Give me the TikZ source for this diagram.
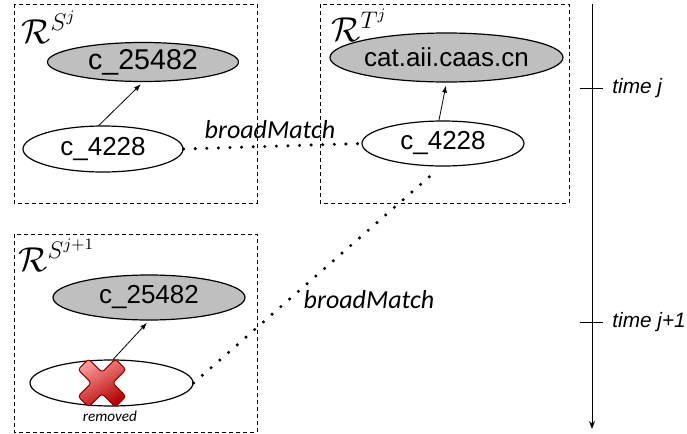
\documentclass[tikz,border=0pt]{standalone}
\usepackage{amssymb}
\usepackage{amsmath}
\usepackage[no-math]{fontspec}
\setmainfont{Liberation Sans}
\newfontfamily\calib{Carlito}
\usetikzlibrary{calc,arrows.meta,shapes.geometric}
\tikzset{
	concept/.style={draw,ellipse,line width=0.6pt,inner sep=0pt,font=\fontsize{13}{15}\selectfont},
	known/.style={concept,fill=gray!50},
	region/.style={draw,line width=0.5pt,dash pattern=on 2pt off 1.5pt},
	link/.style={-{Latex[length=3.5pt,width=2.5pt]},line width=0.4pt,shorten >=1.5pt},
	match/.style={line width=1.7pt,line cap=round,dash pattern=on 0pt off 5.8pt},
	matchlabel/.style={font=\calib\itshape\fontsize{13}{15}\selectfont},
	rlabel/.style={anchor=base west,inner sep=0pt,font=\fontsize{16.5}{18}\selectfont},
	timelabel/.style={anchor=west,inner sep=0pt,font=\itshape\fontsize{10.4}{12}\selectfont}
}
\begin{document}
\begin{tikzpicture}[x=0.5pt,y=-0.5pt]
	\useasboundingbox (0,0) rectangle (687,434);
	% regions
	\draw[region] (14,4) rectangle (257,203);	\node[rlabel] (rs) at (21,43) {$\mathcal{R}^{S^j}$};
	\draw[region] (320,4) rectangle (569,203);	\node[rlabel] (rt) at (331,41) {$\mathcal{R}^{T^j}$};
	\draw[region] (14,234) rectangle (257,432);	\node[rlabel] (rsn) at (18,271) {$\mathcal{R}^{S^{j+1}}$};
	%
	\node[known,minimum width=95.5pt,minimum height=19.5pt,font=\fontsize{14.3}{16}\selectfont] (s25482) at (143,62) {c\_25482};
	\node[concept,minimum width=80pt,minimum height=23pt] (s4228) at (103,149) {c\_4228};
	\node[known,minimum width=116.5pt,minimum height=24.5pt] (tcat) at (446.5,57.5) {cat.aii.caas.cn};
	\node[concept,minimum width=81pt,minimum height=22.5pt] (t4228) at (443,143.5) {c\_4228};
	\node[known,minimum width=96pt,minimum height=22.5pt] (n25482) at (149,297.5) {c\_25482};
	\node[concept,minimum width=81.5pt,minimum height=23pt] (gone) at (111.5,383) {};
	%
	\draw[link] (s4228.100) -- (s25482.south);
	\draw[link] (t4228.100) -- (tcat.south);
	\draw[link] (gone.86) -- (n25482.south);
	% the removed mark
	\shade[top color=red!40!white,bottom color=red!70!black,shading angle=30,draw=red!55!black,line width=0.5pt,rounded corners=1.5pt]
		(102,383) ++(-24,-13.4) -- ++(10.6,-10.6) -- ++(13.4,13.4) -- ++(13.4,-13.4) -- ++(10.6,10.6)
		-- ++(-13.4,13.4) -- ++(13.4,13.4) -- ++(-10.6,10.6) -- ++(-13.4,-13.4) -- ++(-13.4,13.4)
		-- ++(-10.6,-10.6) -- ++(13.4,-13.4) -- cycle;
	\node[font=\calib\itshape\fontsize{7.6}{9}\selectfont] (gonelabel) at (110,416) {removed};
	%
	\draw[match] (s4228.east) -- (t4228.west);
	\draw[match,shorten >=3pt] (gone.east) -- (t4228.-95);
	\node[matchlabel] (bm1) at (270,130) {broadMatch};
	\node[matchlabel] (bm2) at (369,300) {broadMatch};
	% time axis
	\coordinate (ttop) at (592,4);
	\coordinate (tbot) at (592,429);
	\draw[-{Stealth[length=4pt,width=3pt]},line width=0.5pt] (ttop) -- (tbot);
	\draw[line width=0.5pt] (580,88) -- (603,88);		\node[timelabel] (tj) at (612,88) {time j};
	\draw[line width=0.5pt] (580,322) -- (603,322);	\node[timelabel] (tjn) at (612,322) {time j+1};
\end{tikzpicture}
\end{document}
